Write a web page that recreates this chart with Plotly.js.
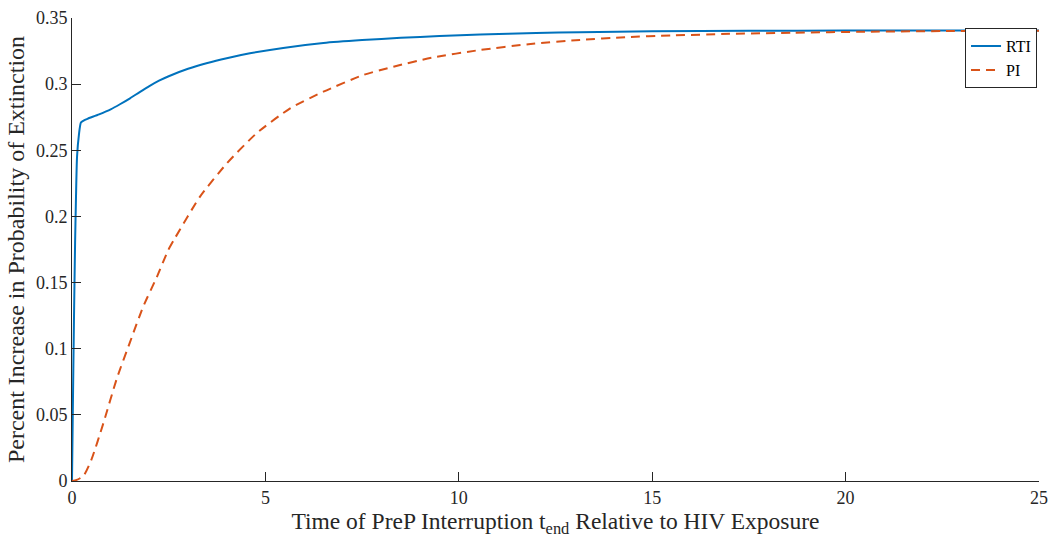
<!DOCTYPE html>
<html>
<head>
<meta charset="utf-8">
<script src="https://cdn.plot.ly/plotly-3.0.1.min.js"></script>
<style>html,body{margin:0;padding:0;background:#fff;}#chart{width:1051px;height:540px;}</style>
</head>
<body>
<div id="chart"></div>
<script>
const rtiT = [0, 0.02, 0.05, 0.08, 0.1, 0.13, 0.18, 0.23, 0.3, 0.4, 0.7, 1.0, 1.24, 1.5, 1.75, 2.0, 2.25, 2.5, 3.0, 3.5, 4.0, 4.6, 5.46, 6.5, 7.5, 8.5, 9.5, 10.55, 12.0, 13.13, 15.0, 17.5, 20.0, 22.5, 25.0];
const rtiV = [0, 0.05, 0.12, 0.18, 0.21, 0.245, 0.262, 0.271, 0.2725, 0.2738, 0.2772, 0.281, 0.2848, 0.2893, 0.2940, 0.2985, 0.3026, 0.3060, 0.3116, 0.3160, 0.3196, 0.3233, 0.3274, 0.3311, 0.3333, 0.3350, 0.3363, 0.3375, 0.3387, 0.3393, 0.3400, 0.3403, 0.3405, 0.3406, 0.3406];
const piT = [0, 0.12, 0.3, 0.5, 0.81, 1.16, 1.5, 1.84, 2.19, 2.49, 2.66, 3.31, 4.0, 4.77, 5.64, 6.5, 7.53, 8.31, 9.3, 10.55, 11.8, 13.13, 14.3, 15.5, 17.0, 18.64, 20.5, 22.8, 25.0];
const piV = [0, 0.0008, 0.004, 0.016, 0.0436, 0.0776, 0.105, 0.1318, 0.154, 0.1746, 0.1835, 0.215, 0.240, 0.2628, 0.2817, 0.2943, 0.3069, 0.3132, 0.320, 0.3258, 0.3302, 0.3334, 0.3355, 0.3368, 0.338, 0.3389, 0.3396, 0.3402, 0.3404];
const xTicks = [0, 5, 10, 15, 20, 25];
const yTicks = [0, 0.05, 0.1, 0.15, 0.2, 0.25, 0.3, 0.35];
const yTickText = ['0', '0.05', '0.1', '0.15', '0.2', '0.25', '0.3', '0.35'];

const font = '"Liberation Serif", "Times New Roman", serif';
const axisColor = '#262626';

const traces = [
  {x: rtiT, y: rtiV, type: 'scatter', mode: 'lines', name: 'RTI',
   line: {color: '#0072BD', width: 2, shape: 'spline', smoothing: 0.6}},
  {x: piT, y: piV, type: 'scatter', mode: 'lines', name: 'PI',
   line: {color: '#D95319', width: 2, dash: '9px,6px', shape: 'spline', smoothing: 0.6}}
];

const layout = {
  width: 1051, height: 540,
  margin: {l: 72, r: 12, t: 18, b: 59},
  paper_bgcolor: '#fff', plot_bgcolor: '#fff',
  font: {family: font, color: axisColor, size: 18},
  showlegend: true,
  legend: {x: 0.9235, y: 0.978, xanchor: 'left', yanchor: 'top',
    bgcolor: '#fff', bordercolor: axisColor, borderwidth: 1,
    font: {family: font, size: 16, color: '#000'}, tracegroupgap: 0, itemwidth: 30},
  xaxis: {
    range: [0, 25], tickvals: xTicks, ticktext: xTicks.map(String),
    ticks: 'inside', ticklen: 9, tickcolor: axisColor, tickwidth: 1,
    showline: true, linecolor: axisColor, linewidth: 1, mirror: false,
    showgrid: false, zeroline: false,
    tickfont: {family: font, size: 18, color: axisColor},
    title: {text: 'Time of PreP Interruption t<sub>end</sub> Relative to HIV Exposure',
      font: {family: font, size: 23.5, color: axisColor}, standoff: 4}
  },
  yaxis: {
    range: [0, 0.35], tickvals: yTicks, ticktext: yTickText,
    ticks: 'inside', ticklen: 9, tickcolor: axisColor, tickwidth: 1,
    showline: true, linecolor: axisColor, linewidth: 1, mirror: false,
    showgrid: false, zeroline: false,
    tickfont: {family: font, size: 18, color: axisColor},
    title: {text: 'Percent Increase in Probability of Extinction',
      font: {family: font, size: 24, color: axisColor}, standoff: 4}
  }
};

Plotly.newPlot('chart', traces, layout, {displayModeBar: false, staticPlot: true});
</script>
</body>
</html>
